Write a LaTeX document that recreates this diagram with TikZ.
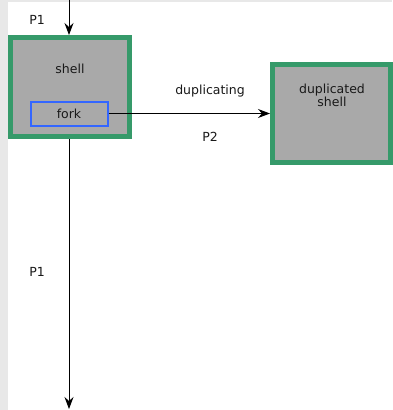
\documentclass[tikz,border=0pt]{standalone}
\usepackage{fontspec}
\setmainfont{DejaVu Sans}
\usetikzlibrary{arrows.meta}
\definecolor{shellgreen}{RGB}{54,154,106}
\definecolor{shellgray}{RGB}{169,169,169}
\definecolor{forkblue}{RGB}{51,102,255}
\definecolor{pagegray}{RGB}{232,232,232}
\tikzset{
  shellbox/.style={draw=shellgreen, line width=5pt, fill=shellgray, inner sep=0pt},
  forkbox/.style={draw=forkblue, line width=2pt, fill=shellgray, inner sep=0pt},
  lbl/.style={font=\fontsize{12.5}{14}\selectfont, text=black!90, inner sep=0pt},
  flow/.style={-{Stealth[length=12pt,width=9pt,inset=4pt]}, line width=1pt}
}
\begin{document}
\begin{tikzpicture}[x=1pt, y=-1pt]
  \useasboundingbox (0,0) rectangle (392,410);
  \fill[pagegray] (0,0) rectangle (392,410);
  \fill[white] (8,2) rectangle (392,410);

  % parent shell with its fork call
  \node[shellbox, minimum width=119pt, minimum height=99pt] (shell) at (70,87) {};
  \node[lbl] (shelltxt) at (70,69) {shell};
  \node[forkbox, minimum width=77pt, minimum height=24pt, label={[lbl]center:fork}] (fork) at (69,113.5) {};

  % child shell produced by fork
  \node[shellbox, minimum width=118pt, minimum height=98pt] (dup) at (331.5,113.5) {};
  \node[lbl, align=center] (duptxt) at (332,95) {duplicated\\[-1pt]shell};

  % process flow
  \coordinate (top) at (69,0);
  \coordinate (bottom) at (69,409);
  \draw[flow] (top) -- (shell.north -| top);
  \draw[flow] (shell.south -| top) -- (bottom);
  \draw[flow] (fork.east) -- (dup.west |- fork.east);

  % labels
  \node[lbl] (p1top) at (37,20) {P1};
  \node[lbl] (p1bot) at (37,272) {P1};
  \node[lbl] (dupl) at (210,91) {duplicating};
  \node[lbl] (p2) at (210,137) {P2};
\end{tikzpicture}
\end{document}
